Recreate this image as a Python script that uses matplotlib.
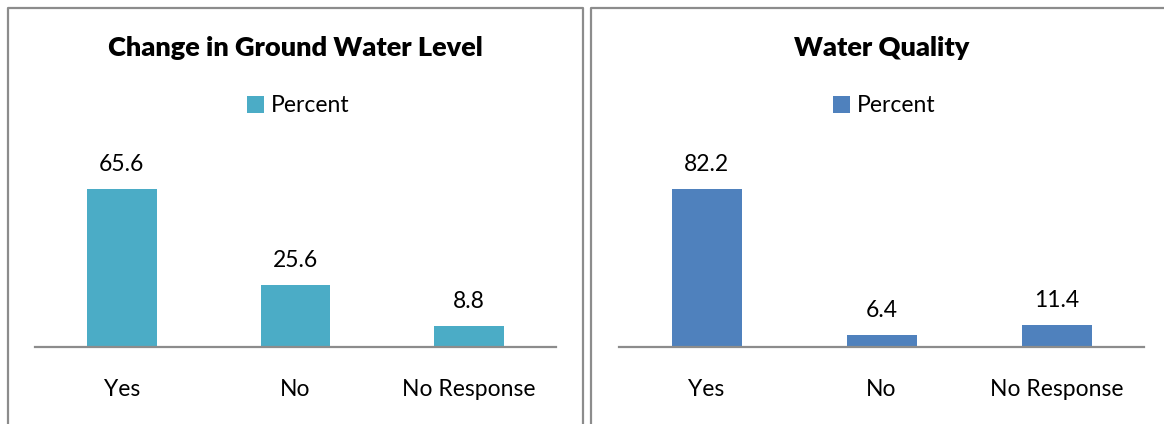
import matplotlib.pyplot as plt
from matplotlib.lines import Line2D

categories = ['Yes', 'No', 'No Response']
ground_water = [65.6, 25.6, 8.8]
water_quality = [82.2, 6.4, 11.4]

W, H = 1164, 424
plt.rcParams['font.family'] = ['Lato', 'DejaVu Sans']

fig = plt.figure(figsize=(W / 100, H / 100), dpi=100)


def px(x0, y0, x1, y1):
    # pixel box (top-left origin) -> figure fraction rect
    return [x0 / W, 1 - y1 / H, (x1 - x0) / W, (y1 - y0) / H]


def border(xs, ys):
    fig.add_artist(Line2D([x / W for x in xs], [1 - y / H for y in ys],
                          transform=fig.transFigure, color='#8c8c8c', lw=1.6))


def panel(x0, x1, title, values, color):
    ax = fig.add_axes(px(x0, 189, x1, 347))
    bars = ax.bar(range(len(categories)), values, width=0.4, color=color)
    ax.set_xlim(-0.5, len(categories) - 0.5)
    ax.set_ylim(0, max(values))
    for s in ['top', 'right', 'left']:
        ax.spines[s].set_visible(False)
    ax.spines['bottom'].set_color('#8c8c8c')
    ax.spines['bottom'].set_linewidth(1.6)
    ax.set_yticks([])
    ax.set_xticks(range(len(categories)))
    ax.set_xticklabels(categories, fontsize=16.5)
    ax.tick_params(axis='x', length=0, pad=23)
    ax.bar_label(bars, labels=[f'{v:.1f}' for v in values], padding=10, fontsize=16.5)
    cx = (x0 + x1) / 2
    fig.text(cx / W, 1 - 48 / H, title, ha='center', va='center',
             fontsize=19.5, fontweight='heavy')
    ax.legend([bars[0]], ['Percent'], loc='center',
              bbox_to_anchor=((cx + 3) / W, 1 - 106 / H), bbox_transform=fig.transFigure,
              frameon=False, fontsize=16.5, handlelength=0.75, handleheight=0.75,
              handletextpad=0.3, borderpad=0)
    return ax


panel(35, 556, 'Change in Ground Water Level', ground_water, '#4BACC6')
panel(619, 1144, 'Water Quality', water_quality, '#4F81BD')

border([8, 8, 583, 583], [430, 8, 8, 430])
border([591, 591, 1170], [430, 8, 8])

fig.savefig('out.png', dpi=100)
